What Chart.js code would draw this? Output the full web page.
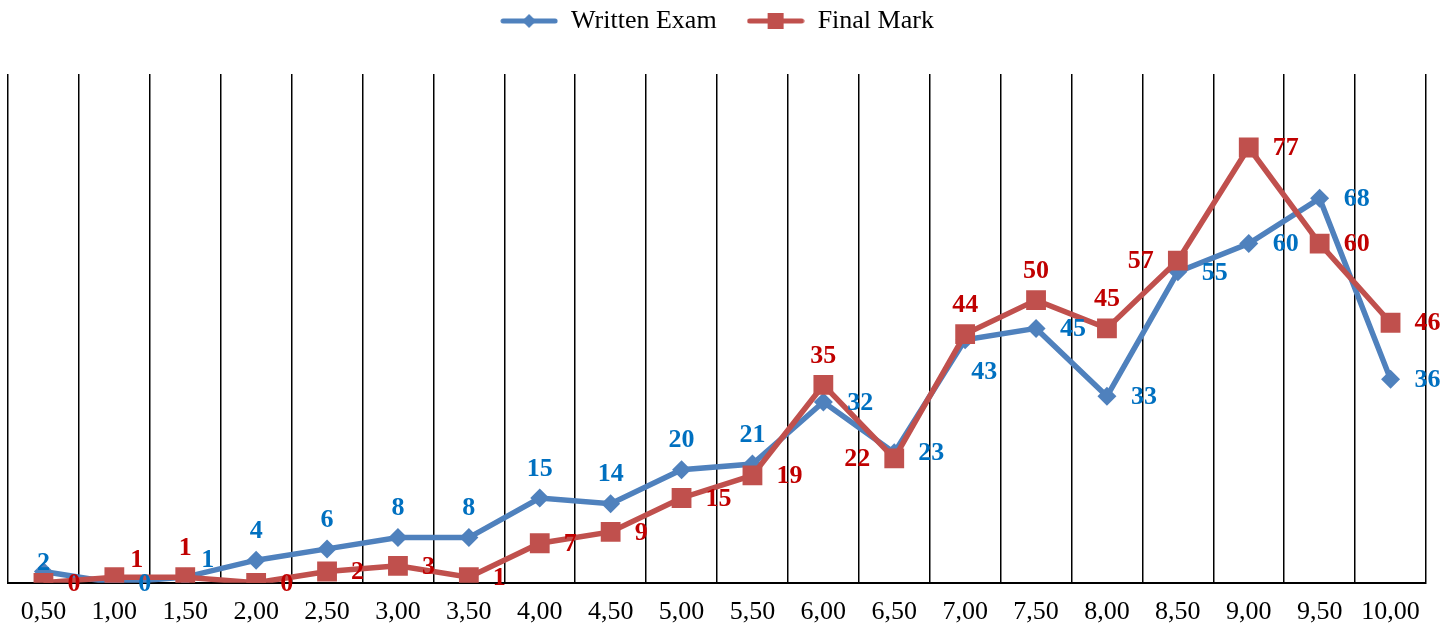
<!DOCTYPE html>
<html>
<head>
<meta charset="utf-8">
<script src="https://cdn.jsdelivr.net/npm/chart.js@4/dist/chart.umd.min.js"></script>
<style>
  html, body { margin: 0; padding: 0; background: #fff; }
  #wrap { width: 1456px; height: 630px; }
</style>
</head>
<body>
<div id="wrap"><canvas id="myChart" width="1456" height="630"></canvas></div>
<script>
const marks = ["0,50", "1,00", "1,50", "2,00", "2,50", "3,00", "3,50", "4,00", "4,50", "5,00",
  "5,50", "6,00", "6,50", "7,00", "7,50", "8,00", "8,50", "9,00", "9,50", "10,00"];
const writtenExam = [2, 0, 1, 4, 6, 8, 8, 15, 14, 20, 21, 32, 23, 43, 45, 33, 55, 60, 68, 36];
const finalMark = [0, 1, 1, 0, 2, 3, 1, 7, 9, 15, 19, 35, 22, 44, 50, 45, 57, 77, 60, 46];

// where each value label sits relative to its point
const writtenLabelPos = ["aboveNear", "right", "aboveRight", "above", "above", "above", "above", "above", "above", "above",
  "above", "right", "right", "below", "right", "right", "right", "right", "right", "right"];
const finalLabelPos = ["right", "aboveRight", "above", "right", "right", "right", "right", "right", "right", "right",
  "right", "above", "left", "above", "above", "above", "left", "right", "right", "right"];

const blue = "#4F81BD";
const red = "#C0504D";
const blueText = "#0070C0";
const redText = "#C00000";
const fontFamily = "'Liberation Serif', 'Times New Roman', serif";

// legend marker: short line with the point shape on it
const legendIcon = (color, shape) => {
  const c = document.createElement("canvas");
  c.width = 58;
  c.height = 18;
  const ctx = c.getContext("2d");
  ctx.strokeStyle = color;
  ctx.lineWidth = 5;
  ctx.lineCap = "round";
  ctx.beginPath();
  ctx.moveTo(3, 9);
  ctx.lineTo(55, 9);
  ctx.stroke();
  ctx.fillStyle = color;
  if (shape === "diamond") {
    ctx.beginPath();
    ctx.moveTo(29, 2);
    ctx.lineTo(36, 9);
    ctx.lineTo(29, 16);
    ctx.lineTo(22, 9);
    ctx.closePath();
    ctx.fill();
  } else {
    ctx.fillRect(21, 1, 16, 16);
  }
  return c;
};

const valueLabels = {
  id: "valueLabels",
  afterDatasetsDraw(chart) {
    const ctx = chart.ctx;
    ctx.save();
    ctx.font = "bold 26px " + fontFamily;
    chart.data.datasets.forEach((ds, di) => {
      const meta = chart.getDatasetMeta(di);
      meta.data.forEach((pt, i) => {
        const pos = ds.labelPos[i];
        let x = pt.x;
        let y = pt.y;
        ctx.fillStyle = ds.labelColor;
        ctx.textBaseline = "middle";
        if (pos === "above") {
          ctx.textAlign = "center";
          y -= 30;
        } else if (pos === "aboveNear") {
          ctx.textAlign = "center";
          y -= 9;
        } else if (pos === "below") {
          ctx.textAlign = "left";
          x += 6;
          y += 32;
        } else if (pos === "left") {
          ctx.textAlign = "right";
          x -= 24;
        } else if (pos === "aboveRight") {
          ctx.textAlign = "left";
          x += 16;
          y -= 18;
        } else {
          ctx.textAlign = "left";
          x += 24;
        }
        ctx.fillText(String(ds.data[i]), x, y + 1);
      });
    });
    ctx.restore();
  },
};

// extra room under the legend
const legendGap = {
  id: "legendGap",
  beforeInit(chart) {
    const fit = chart.legend.fit;
    chart.legend.fit = function () {
      fit.call(this);
      this.height += 30;
    };
  },
};

const config = {
  type: "line",
  data: {
    labels: marks,
    datasets: [
      {
        label: "Written Exam",
        data: writtenExam,
        borderColor: blue,
        backgroundColor: blue,
        borderWidth: 5.5,
        pointStyle: "rectRot",
        pointRadius: 9.5,
        pointBorderWidth: 0,
        labelPos: writtenLabelPos,
        labelColor: blueText,
        icon: legendIcon(blue, "diamond"),
        order: 1,
      },
      {
        label: "Final Mark",
        data: finalMark,
        borderColor: red,
        backgroundColor: red,
        borderWidth: 5.5,
        pointStyle: "rect",
        pointRadius: 14,
        pointBorderWidth: 0,
        labelPos: finalLabelPos,
        labelColor: redText,
        icon: legendIcon(red, "square"),
        order: 0,
      },
    ],
  },
  options: {
    responsive: false,
    animation: false,
    layout: {
      autoPadding: false,
      padding: { left: 8, right: 30, top: -22, bottom: -12 },
    },
    plugins: {
      tooltip: { enabled: false },
      legend: {
        position: "top",
        labels: {
          usePointStyle: true,
          pointStyleWidth: 58,
          padding: 30,
          color: "#000",
          font: { family: fontFamily, size: 26 },
          generateLabels: (chart) =>
            chart.data.datasets.map((ds, i) => ({
              text: ds.label,
              pointStyle: ds.icon,
              fillStyle: ds.borderColor,
              strokeStyle: ds.borderColor,
              lineWidth: 0,
              datasetIndex: i,
              hidden: false,
            })),
        },
      },
    },
    scales: {
      x: {
        offset: true,
        grid: {
          offset: true,
          color: "#000",
          lineWidth: 1.5,
          drawTicks: false,
        },
        border: { color: "#000", width: 2 },
        ticks: {
          color: "#000",
          padding: 14,
          maxRotation: 0,
          font: { family: fontFamily, size: 26 },
        },
      },
      y: {
        display: false,
        min: 0,
        max: 90,
      },
    },
  },
  plugins: [valueLabels, legendGap],
};

const chart = new Chart(document.getElementById("myChart"), config);
</script>
</body>
</html>
